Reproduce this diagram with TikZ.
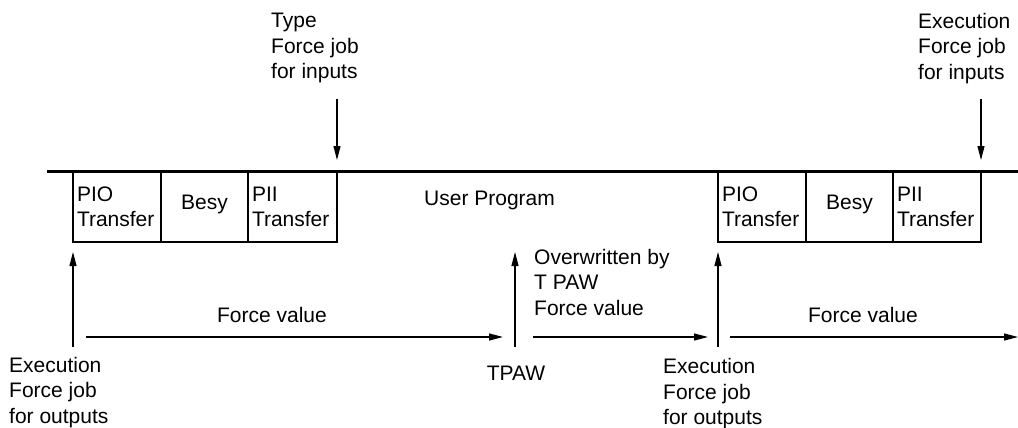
\documentclass[tikz,border=0pt]{standalone}
\usepackage{fontspec}
\setmainfont{Liberation Sans}
\usetikzlibrary{arrows.meta}
\begin{document}
\begin{tikzpicture}[x=1pt,y=-1pt,
  every node/.style={font=\fontsize{21}{25.5}\selectfont, inner sep=0pt},
  tbox/.style={draw, line width=1.3pt, outer sep=0pt, anchor=north west, minimum height=70pt,
    inner xsep=4pt, inner ysep=0pt, align=left, text width=#1},
  bbox/.style={draw, line width=1.3pt, outer sep=0pt, anchor=north west, minimum height=70pt,
    minimum width=#1, align=center, text height=12pt, text depth=8pt},
  txt/.style={anchor=north west, align=left},
  arr/.style={line width=1.2pt, -{Triangle[length=14pt,width=7pt]}},
  mainline/.style={line width=3.5pt}
]
\useasboundingbox (0,0) rectangle (1018,428);

% left block
\node[tbox=80pt] (pio1) at (73,172) {PIO\\Transfer};
\node[bbox=87pt] (besy1) at (pio1.north east) {Besy};
\node[tbox=81pt] (pii1) at (besy1.north east) {PII\\Transfer};
% right block
\node[tbox=80pt] (pio2) at (718,172) {PIO\\Transfer};
\node[bbox=87pt] (besy2) at (pio2.north east) {Besy};
\node[tbox=80pt] (pii2) at (besy2.north east) {PII\\Transfer};

% main time line
\coordinate (ml0) at (47,171.5);
\coordinate (ml1) at (1018,171.5);
\draw[mainline] (ml0) -- (ml1);

\node[anchor=base west] (up) at (424,205) {User Program};

% top labels and arrows
\node[txt] (typ) at (271,13) {Type\\Force job\\for inputs};
\node[txt] (exin) at (918,13) {Execution\\Force job\\for inputs};
\coordinate (ti) at (337,99);
\coordinate (te) at (981,99);
\draw[arr] (ti) -- ([yshift=12pt]pii1.north east);
\draw[arr] (te) -- ([yshift=12pt]pii2.north east);

% bottom up arrows
\coordinate (b1) at (73,347);
\coordinate (b2) at (515,347);
\coordinate (b2t) at (515,252);
\coordinate (b3) at (718,347);
\draw[arr] (b1) -- ([yshift=-10pt]pio1.south west);
\draw[arr] (b2) -- (b2t);
\draw[arr] (b3) -- ([yshift=-10pt]pio2.south west);

% horizontal force value arrows
\coordinate (h1a) at (86,337);  \coordinate (h1b) at (503,337);
\coordinate (h2a) at (533,337); \coordinate (h2b) at (708,337);
\coordinate (h3a) at (730,337); \coordinate (h3b) at (1018,337);
\draw[arr] (h1a) -- (h1b);
\draw[arr] (h2a) -- (h2b);
\draw[arr] (h3a) -- (h3b);

\node[anchor=base] (fv1) at (272,322) {Force value};
\node[anchor=base] (fv3) at (863,322) {Force value};
\node[txt] (ow) at (534,248.7) {Overwritten by\\T PAW\\Force value};

% bottom labels
\node[txt] (exout1) at (9,357) {Execution\\Force job\\for outputs};
\node[anchor=base] (tpaw) at (516,380) {TPAW};
\node[txt] (exout2) at (663,358.5) {Execution\\Force job\\for outputs};
\end{tikzpicture}
\end{document}
